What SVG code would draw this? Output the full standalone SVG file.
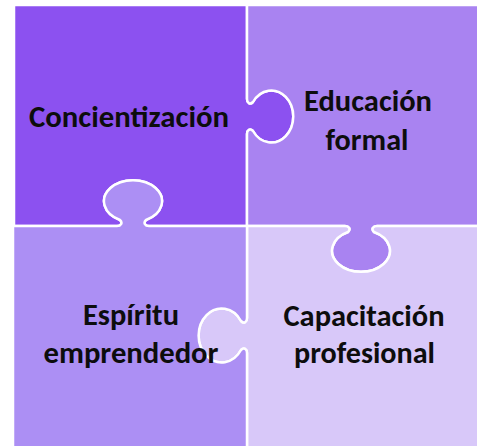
<svg xmlns="http://www.w3.org/2000/svg" width="477" height="446" viewBox="0 0 477 446">
  <style>
    .piece { stroke: #ffffff; stroke-width: 2.5; stroke-linejoin: round; }
    .label { font-family: Carlito, Calibri, Lato, "Liberation Sans", sans-serif; font-weight: 700; font-size: 30px; fill: #0d0d0d; text-anchor: middle; }
  </style>
  <rect width="477" height="446" fill="#ffffff"/>

  <!-- top-left piece: knob out to the right -->
  <g id="concientizacion">
    <path class="piece" fill="#8c51f0"
      d="M 14 5 L 247 5 L 247 99 C 247 103 250 105 253 102 A 22 26 0 1 1 253 131 C 250 128 247 130 247 134 L 247 226
         L 149 226 C 145 226 143 223 146 220 A 29 21 0 1 0 120 220 C 123 223 121 226 117 226 L 14 226 Z"/>
    <text class="label" x="129" y="127" textLength="200" lengthAdjust="spacingAndGlyphs">Concientización</text>
  </g>

  <!-- top-right piece: knob down -->
  <g id="educacion-formal">
    <path class="piece" fill="#a983f1"
      d="M 247 5 L 480 5 L 480 226 L 377 226 C 373 226 371 229 374 232 A 29 21 0 1 1 348 232 C 351 229 349 226 345 226 L 247 226
         L 247 134 C 247 130 250 128 253 131 A 22 26 0 1 0 253 102 C 250 105 247 103 247 99 Z"/>
    <text class="label" x="368" y="111" textLength="128" lengthAdjust="spacingAndGlyphs">Educación</text>
    <text class="label" x="367" y="150" textLength="83" lengthAdjust="spacingAndGlyphs">formal</text>
  </g>

  <!-- bottom-right piece: knob out to the left -->
  <g id="capacitacion-profesional">
    <path class="piece" fill="#d8c8f9"
      d="M 247 226 L 345 226 C 349 226 351 229 348 232 A 29 21 0 1 0 374 232 C 371 229 373 226 377 226 L 480 226 L 480 450 L 247 450
         L 247 353 C 247 349 244 347 241 350 A 23 27 0 1 1 241 321 C 244 324 247 322 247 318 Z"/>
    <text class="label" x="364" y="326" textLength="161" lengthAdjust="spacingAndGlyphs">Capacitación</text>
    <text class="label" x="364.5" y="363" textLength="141" lengthAdjust="spacingAndGlyphs">profesional</text>
  </g>

  <!-- bottom-left piece: knob up; drawn last so its label sits over the neighbouring knob -->
  <g id="espiritu-emprendedor">
    <path class="piece" fill="#ac8ff4"
      d="M 13 226 L 117 226 C 121 226 123 223 120 220 A 29 21 0 1 1 146 220 C 143 223 145 226 149 226 L 247 226
         L 247 318 C 247 322 244 324 241 321 A 23 27 0 1 0 241 350 C 244 347 247 349 247 353 L 247 450 L 13 450 Z"/>
    <text class="label" x="131" y="325" textLength="96" lengthAdjust="spacingAndGlyphs">Espíritu</text>
    <text class="label" x="131" y="363" textLength="175" lengthAdjust="spacingAndGlyphs">emprendedor</text>
  </g>
</svg>
